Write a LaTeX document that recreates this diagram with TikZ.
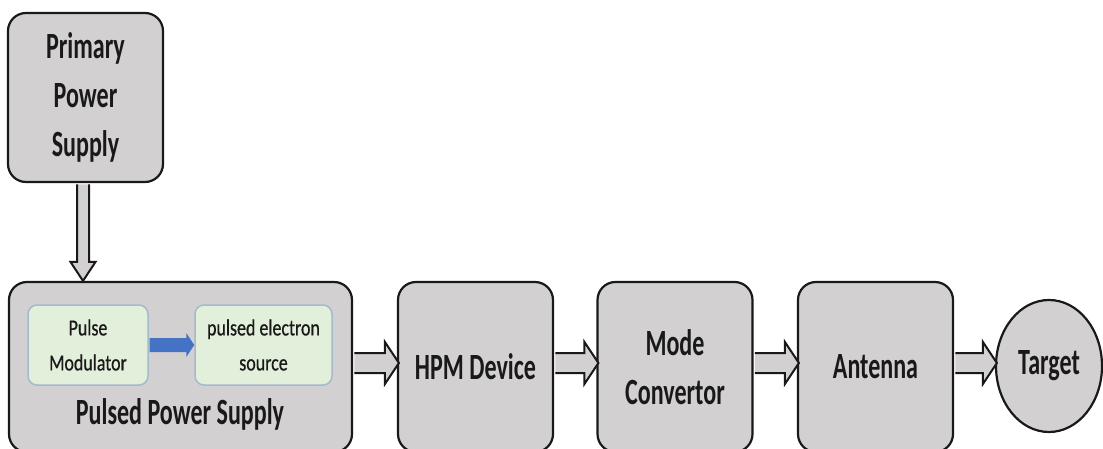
\documentclass[tikz,border=0pt]{standalone}
\usepackage{fontspec}
\usetikzlibrary{calc,shapes.geometric}
\newfontfamily\bigf{Carlito}[FakeStretch=0.65]
\newfontfamily\smallf{Carlito}[FakeStretch=0.78,FakeBold=0.6]
\definecolor{boxgray}{RGB}{211,208,209}
\definecolor{innergreen}{RGB}{226,239,218}
\definecolor{innerborder}{RGB}{165,185,205}
\definecolor{arrowblue}{RGB}{68,114,196}
\definecolor{txt}{RGB}{25,25,25}
\newcommand\hollowH[2]{%
  \filldraw[hollow] ($(#1)+(0,-10)$) -- ($(#2)+(-14,-10)$) -- ($(#2)+(-14,-21)$) -- (#2)
   -- ($(#2)+(-14,21)$) -- ($(#2)+(-14,10)$) -- ($(#1)+(0,10)$);}
\begin{document}
\begin{tikzpicture}[x=1pt,y=-1pt,
  mainbox/.style={draw=black!90, line width=2.2pt, fill=boxgray, rounded corners=18pt,
     minimum width=155pt, minimum height=170pt, inner sep=0pt, align=center,
     font=\bigf\bfseries\fontsize{37}{49}\selectfont, text=txt},
  innerbox/.style={draw=innerborder, line width=1.5pt, fill=innergreen, rounded corners=9pt,
     minimum height=80pt, inner sep=0pt, align=center,
     font=\smallf\fontsize{23}{35}\selectfont, text=txt},
  hollow/.style={draw=black!90, line width=2pt, fill=boxgray, line join=miter},
  label/.style={font=\bigf\bfseries\fontsize{37}{49}\selectfont, text=txt, inner sep=0pt}
]
\useasboundingbox (0,0) rectangle (1103,449);
\clip (0,0) rectangle (1103,449);
% boxes
\node[mainbox, minimum height=169pt] (pri) at (85.5,97.5) {Primary\\Power\\Supply};
\node[mainbox, minimum width=343pt] (pps) at (180.5,367) {};
\node[innerbox, minimum width=120pt] (pm) at (88,345) {Pulse\\Modulator};
\node[innerbox, minimum width=137pt] (pes) at (263.5,345) {pulsed electron\\source};
\node[label] (ppslabel) at (180,414) {Pulsed Power Supply};
\node[mainbox] (hpm) at (475.5,367) {HPM Device};
\node[mainbox] (mc) at (675,367) {Mode\\Convertor};
\node[mainbox] (ant) at (875.5,367) {Antenna};
\node[ellipse, draw=black!90, line width=2.2pt, fill=boxgray, minimum width=106pt,
      minimum height=132pt, inner sep=0pt, font=\bigf\bfseries\fontsize{37}{49}\selectfont,
      text=txt] (tgt) at (1049,366) {Target};
% vertical hollow arrow
\coordinate (vs) at ($(pri.south)+(-2.5,1.2)$);
\coordinate (vt) at (vs |- pps.north);
\filldraw[hollow] ($(vs)+(-6,0)$) -- ($(vt)+(-6,-19)$) -- ($(vt)+(-12.5,-19)$) -- (vt)
   -- ($(vt)+(12.5,-19)$) -- ($(vt)+(6,-19)$) -- ($(vs)+(6,0)$);
% horizontal hollow arrows
\coordinate (a1) at ($(pps.east)+(1.2,-4)$);
\coordinate (b1) at ($(hpm.west)+(2,-4)$);
\coordinate (a2) at ($(hpm.east)+(1.2,-4)$);
\coordinate (b2) at ($(mc.west)+(2,-4)$);
\coordinate (a3) at ($(mc.east)+(1.2,-4)$);
\coordinate (b3) at ($(ant.west)+(2,-4)$);
\coordinate (a4) at ($(ant.east)+(1.2,-4)$);
\coordinate (b4) at ($(tgt.west)+(2,-3)$);
\hollowH{a1}{b1}
\hollowH{a2}{b2}
\hollowH{a3}{b3}
\hollowH{a4}{b4}
% blue arrow
\coordinate (c1) at ($(pm.east)+(0.8,-0)$);
\coordinate (c2) at ($(pes.west)+(0,0)$);
\fill[arrowblue] ($(c1)+(0,-7)$) -- ($(c2)+(-8,-7)$) -- ($(c2)+(-8,-12)$) -- (c2)
   -- ($(c2)+(-8,12)$) -- ($(c2)+(-8,7)$) -- ($(c1)+(0,7)$) -- cycle;
\end{tikzpicture}
\end{document}
